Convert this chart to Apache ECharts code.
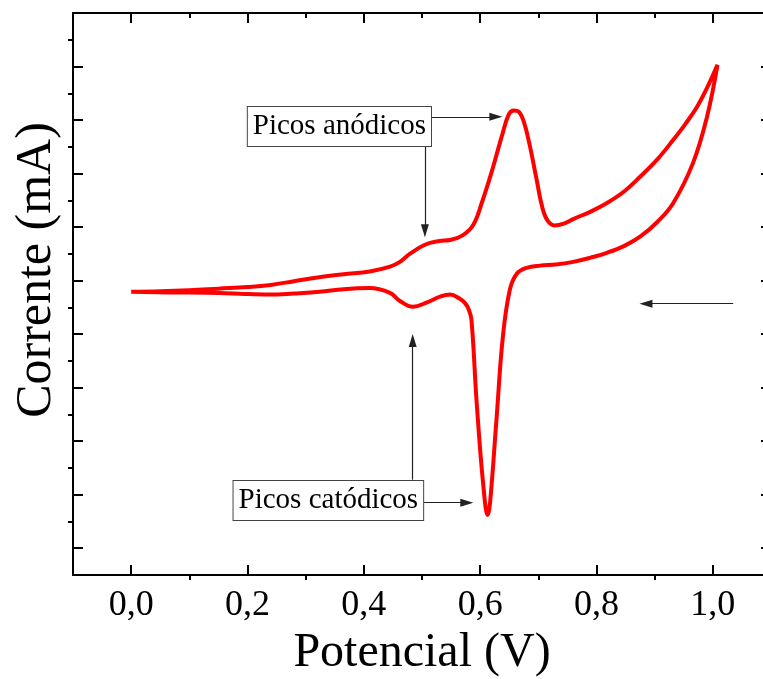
<!DOCTYPE html>
<html lang="pt">
<head>
<meta charset="UTF-8">
<title>Voltametria cíclica</title>
<style>html,body{margin:0;padding:0;background:#fff}#main{width:763px;height:679px}</style>
</head>
<body>
<div id="main"></div>
<script src="https://cdn.jsdelivr.net/npm/echarts@6/dist/echarts.min.js"></script>
<script>
// varredura de ida (anódica), potencial em V e corrente em unidades de divisão do eixo
var potIda = [0.000, 0.050, 0.100, 0.150, 0.200, 0.240, 0.280, 0.320, 0.365, 0.410, 0.445, 0.462, 0.479,
  0.505, 0.530, 0.548, 0.569, 0.588, 0.603, 0.620, 0.637, 0.649, 0.658, 0.666, 0.675, 0.685, 0.697,
  0.707, 0.716, 0.728, 0.745, 0.760, 0.790, 0.818, 0.848, 0.875, 0.905, 0.932, 0.953, 0.973, 0.990, 1.008];
var corIda = [4.79, 4.80, 4.82, 4.85, 4.88, 4.92, 4.99, 5.06, 5.12, 5.17, 5.26, 5.35, 5.50,
  5.67, 5.74, 5.76, 5.84, 6.04, 6.46, 7.04, 7.69, 8.10, 8.18, 8.16, 7.97, 7.54, 6.89,
  6.36, 6.12, 6.03, 6.07, 6.15, 6.29, 6.45, 6.67, 6.94, 7.27, 7.63, 7.93, 8.25, 8.60, 9.03];
// varredura de volta (catódica)
var potVolta = [1.008, 0.990, 0.966, 0.932, 0.905, 0.875, 0.848, 0.818, 0.790, 0.760, 0.730, 0.703,
  0.680, 0.663, 0.651, 0.639, 0.628, 0.617, 0.613, 0.605, 0.594, 0.585, 0.580, 0.574, 0.565, 0.548,
  0.531, 0.510, 0.484, 0.462, 0.445, 0.410, 0.365, 0.324, 0.280, 0.238, 0.195, 0.152, 0.066, 0.000];
var corVolta = [9.03, 8.06, 7.20, 6.45, 6.10, 5.82, 5.65, 5.52, 5.43, 5.35, 5.30, 5.28,
  5.24, 5.13, 4.83, 3.95, 2.40, 0.85, 0.62, 1.22, 2.72, 4.27, 4.47, 4.58, 4.66, 4.74,
  4.70, 4.60, 4.51, 4.62, 4.77, 4.86, 4.84, 4.79, 4.76, 4.74, 4.75, 4.77, 4.78, 4.79];

var xMaior = [0, 0.2, 0.4, 0.6, 0.8, 1.0];
var xMenor = [0.1, 0.3, 0.5, 0.7, 0.9];
var yMaior = [0, 1, 2, 3, 4, 5, 6, 7, 8, 9, 10];
var yMenor = [0.5, 1.5, 2.5, 3.5, 4.5, 5.5, 6.5, 7.5, 8.5, 9.5];

// anotações: [x1, y1, x2, y2] e [texto, x, y]
var setas = [
  [0.515, 8.06, 0.627, 8.06],
  [0.505, 7.50, 0.505, 5.93],
  [0.502, 0.85, 0.577, 0.85],
  [0.484, 1.28, 0.484, 3.88],
  [1.035, 4.57, 0.885, 4.57]
];
var caixas = [
  ['Picos anódicos', 0.358, 7.88],
  ['Picos catódicos', 0.339, 0.89]
];

var fonte = '"Liberation Serif", "Times New Roman", serif';

var pontos = [];
potIda.forEach(function (p, i) { pontos.push([p, corIda[i]]); });
potVolta.forEach(function (p, i) { pontos.push([p, corVolta[i]]); });

function eixoX(pos, ticks, dentro, compr, linha) {
  return {
    type: 'value', position: pos, min: -0.1, max: 1.1,
    axisLine: {show: linha, onZero: false, lineStyle: {color: '#000', width: 2}},
    axisTick: {inside: dentro, length: compr, customValues: ticks, lineStyle: {color: '#000', width: 2}},
    axisLabel: {show: false},
    splitLine: {show: false}
  };
}
function eixoY(pos, ticks, dentro, compr, linha) {
  return {
    type: 'value', position: pos, min: -0.5, max: 10,
    axisLine: {show: linha, onZero: false, lineStyle: {color: '#000', width: 2}},
    axisTick: {inside: dentro, length: compr, customValues: ticks, lineStyle: {color: '#000', width: 2}},
    axisLabel: {show: false},
    splitLine: {show: false}
  };
}

var xBase = eixoX('bottom', xMaior, true, 10, true);
xBase.axisLabel = {
  show: true, customValues: xMaior, margin: 13,
  fontSize: 36, fontFamily: fonte, color: '#000',
  formatter: function (v) { return v.toFixed(1).replace('.', ','); }
};
xBase.name = 'Potencial (V)';
xBase.nameLocation = 'middle';
xBase.nameGap = 51;
xBase.nameTextStyle = {fontSize: 48, fontFamily: fonte, color: '#000'};

var yBase = eixoY('left', yMaior, true, 10, true);
yBase.name = 'Corrente (mA)';
yBase.nameLocation = 'middle';
yBase.nameGap = 11;
yBase.nameTextStyle = {fontSize: 50, fontFamily: fonte, color: '#000', padding: [0, 0, 0, 48]};

var chart = echarts.init(document.getElementById('main'));
chart.setOption({
  animation: false,
  backgroundColor: '#fff',
  grid: {left: 73, top: 13, width: 698, height: 562, outerBoundsMode: 'none', containLabel: false},
  xAxis: [
    xBase,
    eixoX('bottom', xMenor, false, 5, false),
    eixoX('top', xMaior, true, 10, true),
    eixoX('top', xMenor, true, 5, false)
  ],
  yAxis: [
    yBase,
    eixoY('left', yMenor, false, 5, false),
    eixoY('right', yMaior, true, 10, true)
  ],
  series: [{
    type: 'line',
    data: pontos,
    showSymbol: false,
    smooth: 0.4,
    lineStyle: {color: '#ff0000', width: 4},
    itemStyle: {color: '#ff0000'},
    markLine: {
      silent: true,
      symbol: ['none', 'triangle'],
      symbolSize: [8, 13],
      label: {show: false},
      lineStyle: {color: '#222', width: 1.2, type: 'solid'},
      emphasis: {disabled: true},
      data: setas.map(function (s) {
        return [{coord: [s[0], s[1]]}, {coord: [s[2], s[3]]}];
      })
    },
    markPoint: {
      silent: true,
      symbol: 'rect',
      symbolSize: 1,
      itemStyle: {color: 'rgba(0,0,0,0)'},
      label: {
        show: true, position: 'inside', formatter: '{b}',
        fontSize: 29, lineHeight: 30, fontFamily: fonte, color: '#000',
        backgroundColor: '#fff', borderColor: '#444', borderWidth: 1,
        padding: [5, 5, 4, 5]
      },
      data: caixas.map(function (c) {
        return {name: c[0], coord: [c[1], c[2]]};
      })
    }
  }]
});
</script>
</body>
</html>
